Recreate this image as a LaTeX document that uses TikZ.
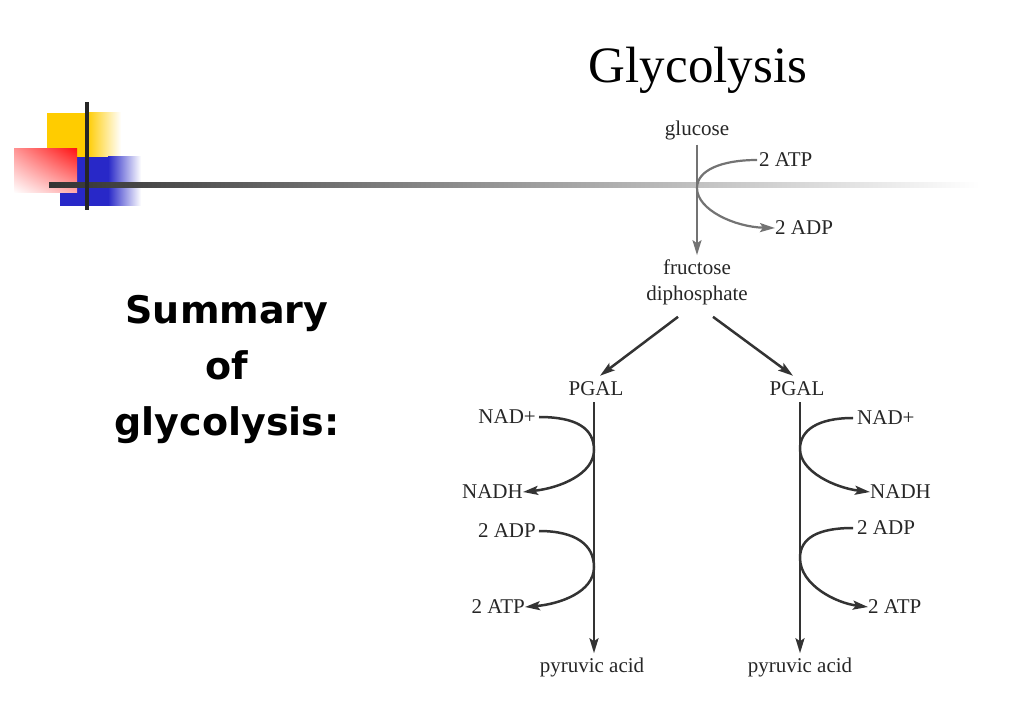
\documentclass[tikz,border=0pt]{standalone}
\usepackage{fontspec}
\setmainfont{Liberation Serif}
\newfontfamily\summaryfont{DejaVu Sans}
\usetikzlibrary{positioning,calc,arrows.meta,shadings}

\definecolor{decoyellow}{RGB}{255,204,0}
\definecolor{decoblue}{RGB}{40,40,200}
\definecolor{decored}{RGB}{255,20,20}

\tikzset{
  lbl/.style={inner sep=0pt, font=\fontsize{21}{26}\selectfont, text=black!85},
  path/.style={draw=black!80, line width=2.5pt},
  toppath/.style={draw=black!55, line width=2.2pt},
  arrowtip/.style={-{Stealth[length=15pt,width=9pt,inset=3pt]}}
}

\begin{document}
\begin{tikzpicture}[x=1pt,y=-1pt]
        \useasboundingbox (0,0) rectangle (1023,708);
        % slide decoration
        \fill[decoyellow] (47,113) rectangle (87,157);
        \shade[left color=decoyellow, right color=white] (87,113) rectangle (121,157);
        \fill[decoblue] (60,157) rectangle (108,206);
        \shade[left color=decoblue, right color=white] (108,157) rectangle (141,206);
        \shade[upper right=decored, upper left=decored!45, lower right=decored!35, lower left=white] (14,149) rectangle (77,193);
        \shade[left color=black!80, right color=white] (49,183) rectangle (980,188);
        \fill[black!85] (85,102) rectangle (89,210);

        \node[font=\summaryfont\bfseries\fontsize{38}{56}\selectfont, align=center] (summary) at (227,369) {Summary\\of\\glycolysis:};

        % glycolysis scheme
        \node[font=\fontsize{51}{60}\selectfont] (title) at (698,70) {Glycolysis};
        \node[lbl] (glucose) at (697,130) {glucose};
        \node[lbl, align=center] (fdp) at (697,282) {fructose\\diphosphate};
        \node[lbl, anchor=west] (atp1) at (759,160) {2 ATP};
        \node[lbl, anchor=west] (adp1) at (775,228) {2 ADP};
        \coordinate (t1) at (697,188);

        \node[lbl] (pgalL) at (596,389) {PGAL};
        \node[lbl] (pgalR) at (797,389) {PGAL};
        \node[lbl] (pyrL) at (592,667) {pyruvic acid};
        \node[lbl] (pyrR) at (800,667) {pyruvic acid};

        \node[lbl, anchor=east] (nadL) at (536,417) {NAD+};
        \node[lbl, anchor=east] (nadhL) at (523,492) {NADH};
        \node[lbl, anchor=east] (adpL) at (536,531) {2 ADP};
        \node[lbl, anchor=east] (atpL) at (525,607) {2 ATP};
        \node[lbl, anchor=west] (nadR) at (857,418) {NAD+};
        \node[lbl, anchor=west] (nadhR) at (870,492) {NADH};
        \node[lbl, anchor=west] (adpR) at (857,528) {2 ADP};
        \node[lbl, anchor=west] (atpR) at (868,607) {2 ATP};

        \coordinate (l1) at (594,450);
        \coordinate (l2) at (594,567);
        \coordinate (r1) at (800,449);
        \coordinate (r2) at (800,558);

        \draw[toppath, arrowtip] ([yshift=-5pt]glucose.south) -- ([yshift=4pt]fdp.north);
        \draw[toppath, arrowtip] ([xshift=-2pt]atp1.west) .. controls (722,160) and (697,170) .. (t1)
            .. controls (697,210) and (735,227) .. (adp1.west);

        \draw[path, arrowtip] ([xshift=-19pt,yshift=-12pt]fdp.south) -- ([xshift=4pt,yshift=6pt]pgalL.north);
        \draw[path, arrowtip] ([xshift=16pt,yshift=-12pt]fdp.south) -- ([xshift=-4pt,yshift=6pt]pgalR.north);
        \draw[path, arrowtip] ([yshift=-6pt]l1 |- pgalL.south) -- ([yshift=4pt]l1 |- pyrL.north);
        \draw[path, arrowtip] ([yshift=-6pt]r1 |- pgalR.south) -- ([yshift=4pt]r1 |- pyrR.north);

        \draw[path, arrowtip] ([xshift=3pt]nadL.east) .. controls (576,417) and (594,428) .. (l1)
            .. controls (594,474) and (560,488) .. (nadhL.east);
        \draw[path, arrowtip] ([xshift=3pt]adpL.east) .. controls (576,531) and (594,545) .. (l2)
            .. controls (594,592) and (560,604) .. (atpL.east);
        \draw[path, arrowtip] ([xshift=-4pt]nadR.west) .. controls (818,418) and (800,430) .. (r1)
            .. controls (800,472) and (836,488) .. (nadhR.west);
        \draw[path, arrowtip] ([xshift=-4pt]adpR.west) .. controls (818,528) and (800,538) .. (r2)
            .. controls (800,585) and (836,603) .. (atpR.west);
\end{tikzpicture}
\end{document}
